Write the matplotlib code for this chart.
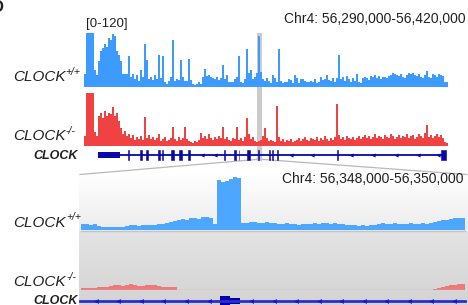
import numpy as np
import matplotlib
matplotlib.use("Agg")
import matplotlib.pyplot as plt

plt.rcParams['font.family'] = ['Liberation Sans', 'DejaVu Sans']

# ---------------- data ----------------
# overview region (kb on Chr4)
top_region = (56290.0, 56420.0)
top_range_label = "[0-120]"
top_coord_label = "Chr4: 56,290,000-56,420,000"
zoom_coord_label = "Chr4: 56,348,000-56,350,000"
highlight_kb = (56351.8, 56353.6)

# CLOCK+/+ coverage, overview (0-120 scale)
blue_top = [30, 130, 130, 130, 130,
            38, 27, 57, 79, 86, 95, 90, 108, 104, 118, 113, 79, 72, 57, 30, 30, 30, 68, 23, 30,
            18, 27, 14, 38, 23, 95, 61, 18, 23, 16, 27, 18, 72, 20, 70, 11, 7, 14, 23, 104,
            14, 18, 16, 61, 23, 14, 14, 63, 16, 7, 5, 7, 11, 7, 23, 41, 25, 27,
            23, 20, 18, 23, 16, 20, 50, 18, 27, 11, 11, 11, 18, 23, 68, 11, 9, 18, 84, 32,
            38, 18, 23, 32, 113, 34, 18, 14, 20, 14, 9, 27, 20, 11, 84, 14, 9, 11, 11, 18,
            16, 9, 27, 20, 9, 18, 18, 14, 11, 11, 14, 11, 18, 9, 11, 23, 16, 18, 27,
            16, 14, 20, 11, 20, 72, 18, 23, 14, 25, 18, 11, 20, 14, 30, 11, 9, 20, 23, 20,
            16, 25, 23, 27, 20, 25, 18, 23, 23, 20, 25, 27, 32, 30, 27, 25, 30, 23, 20, 27,
            32, 30, 32, 27, 25, 30, 23, 20, 27, 36, 23, 20, 30, 27, 23, 30, 27, 25, 11, 11]

# CLOCK-/- coverage, overview (0-120 scale)
red_top = [23, 130, 130, 130, 130,
           32, 23, 68, 75, 63, 79, 68, 75, 72, 88, 68, 75, 57, 41, 27, 34, 23, 27, 18, 25,
           14, 20, 16, 23, 14, 66, 18, 25, 16, 20, 14, 18, 27, 11, 16, 20, 11, 14, 18, 43,
           16, 11, 20, 14, 18, 43, 16, 11, 9, 7, 11, 9, 14, 30, 18, 23, 16, 27,
           18, 14, 20, 16, 23, 18, 43, 16, 20, 14, 11, 18, 16, 43, 14, 18, 11, 20, 63, 27,
           16, 20, 11, 9, 11, 14, 23, 41, 18, 11, 14, 11, 9, 90, 20, 11, 16, 9, 14, 11,
           16, 9, 11, 14, 18, 11, 16, 20, 14, 11, 18, 16, 14, 20, 11, 18, 14, 23, 16,
           11, 18, 14, 20, 95, 25, 16, 20, 14, 23, 18, 16, 20, 14, 18, 23, 16, 20, 25, 18,
           23, 16, 20, 27, 18, 23, 20, 16, 25, 20, 18, 27, 23, 16, 20, 25, 18, 23, 20, 27,
           18, 23, 25, 16, 20, 27, 23, 18, 30, 48, 20, 25, 18, 23, 27, 20, 25, 18, 9, 7]

# CLOCK gene model, overview (kb)
gene_span = (56295.0, 56419.3)
utr_block = (56295.0, 56302.9)
exon_starts = [56305.7, 56310.0, 56312.1, 56316.4, 56317.9, 56321.1, 56323.9, 56327.1,
               56340.0, 56343.6, 56345.2, 56348.2, 56352.1, 56356.1, 56357.1, 56358.9,
               56380.4, 56417.5]
exon_ends = [56306.1, 56310.7, 56312.7, 56317.1, 56318.2, 56322.1, 56325.0, 56327.9,
             56340.4, 56344.3, 56345.5, 56349.3, 56352.5, 56356.4, 56357.5, 56359.3,
             56380.7, 56419.3]
strand_marks_top = [56332.1, 56336.8, 56363.9, 56371.4, 56385.4, 56393.2, 56401.4, 56409.3,
                    56416.5]

# zoomed region (bp offset from 56,348,000)
zoom_region = (0.0, 2000.0)
blue_zoom = [6, 6, 5.5, 6, 4, 3.5, 3.5, 3, 3.5, 3, 3.5, 4, 5, 5, 4.5, 5,
             5, 5, 5.5, 6, 6, 7, 8, 9, 10, 11, 10, 12, 12, 11, 13, 13,
             12, 6, 50, 48, 49, 51, 53, 52, 7, 7, 8, 8, 7, 7, 8, 7,
             7, 6, 6, 7, 6, 6, 5, 6, 6, 6, 7, 6, 7, 7, 6, 7,
             6, 6, 5, 5, 5, 4, 5, 4, 5, 5, 6, 7, 6, 6, 7, 6,
             6, 6, 7, 6, 6, 7, 6, 7, 8, 9, 10, 10, 11, 12, 12, 12]
red_zoom = [2, 2, 2, 2.5, 3, 3.5, 3.5, 4, 5, 5, 4.5, 5, 6, 5, 4.5, 4.5,
            5, 5, 5, 4.5, 3.5, 3.5, 3, 3, 0, 0, 0, 0, 0, 0, 0, 0,
            0, 0, 0, 0, 0, 0, 0, 0, 0, 0, 0, 0, 0, 0, 0, 0,
            0, 0, 0, 0, 0, 0, 0, 0, 0, 0, 0, 0, 0, 0, 0, 0,
            0, 0, 0, 0, 0, 0, 0, 0, 0, 0, 0, 0, 0, 0, 0, 0,
            0, 0, 0, 0, 0, 0, 0, 0, 1.5, 2.5, 3, 4, 5, 5.5, 6, 6]
zoom_exon_tall = (724, 776)
zoom_exon_short = (776, 828)
strand_marks_zoom = [78, 193, 312, 427, 547, 667, 885, 1005, 1120, 1240, 1354, 1474,
                     1588, 1708, 1823, 1943]

# ---------------- styling ----------------
BLUE = "#3d9bff"
RED = "#f04242"
NAVY = "#0808a8"
ZBLUE = "#4da6ff"
ZRED = "#f06a6a"
TXT = "#231f20"

W, H = 468, 305
fig = plt.figure(figsize=(W / 100, H / 100), dpi=100)


def add_ax(x0, y0, x1, y1, z=1):
    ax = fig.add_axes([x0 / W, 1 - y1 / H, (x1 - x0) / W, (y1 - y0) / H])
    ax.set_zorder(z)
    ax.patch.set_alpha(0)
    ax.axis('off')
    return ax


# background overlay (gradient panel + connector lines)
bg = add_ax(0, 0, W, H, z=0)
g1 = np.linspace(1.0, 0.925, 100)[:, None]
g2 = np.linspace(0.89, 0.83, 100)[:, None]
bg.imshow(np.dstack([g1, g1, g1]), extent=(79, 468, 231, 174), aspect='auto',
          interpolation='bilinear')
bg.imshow(np.dstack([g2, g2, g2]), extent=(79, 468, 305, 231), aspect='auto',
          interpolation='bilinear')
bg.plot([80, 262], [174.5, 159], color="#b8b8b8", lw=0.9)
bg.plot([257, 467], [159, 174.5], color="#b8b8b8", lw=0.9)
bg.plot([81, 465], [231, 231], color="#c4c4c4", lw=1.0)
bg.set_xlim(0, W)
bg.set_ylim(H, 0)

# highlight column over the overview block
hl = add_ax(84, 33, 448, 161, z=1)
hl.axvspan(*highlight_kb, color="#cbcbcb", lw=0)
hl.set_xlim(*top_region)

edges_top = np.linspace(top_region[0], top_region[1], len(blue_top) + 1)
ab = add_ax(84, 33, 448, 87, z=2)
ab.stairs(blue_top, edges_top, fill=True, color=BLUE, lw=0)
ab.set_xlim(*top_region)
ab.set_ylim(0, 120)

edges_top_r = np.linspace(top_region[0], top_region[1], len(red_top) + 1)
ar = add_ax(84, 93, 448, 146, z=2)
ar.stairs(red_top, edges_top_r, fill=True, color=RED, lw=0)
ar.set_xlim(*top_region)
ar.set_ylim(0, 120)

ag = add_ax(84, 145, 448, 165, z=3)
ag.hlines(0, gene_span[0], gene_span[1], color=NAVY, lw=1.3)
ag.broken_barh([(utr_block[0], utr_block[1] - utr_block[0])], (-3, 6), color=NAVY, lw=0)
ag.broken_barh([(s, e - s) for s, e in zip(exon_starts, exon_ends)], (-5, 10),
               facecolor=NAVY, edgecolor=NAVY, lw=0.4)
ag.plot(strand_marks_top, [0] * len(strand_marks_top), ls='none', marker='<',
        ms=3, color=NAVY, mew=0)
ag.set_xlim(*top_region)
ag.set_ylim(-10, 10)

# zoomed tracks
edges_z = np.linspace(zoom_region[0], zoom_region[1], len(blue_zoom) + 1)
zb = add_ax(81, 175, 465, 230, z=2)
zb.stairs(blue_zoom, edges_z, fill=True, color=ZBLUE, lw=0)
zb.set_xlim(*zoom_region)
zb.set_ylim(0, 55)

edges_zr = np.linspace(zoom_region[0], zoom_region[1], len(red_zoom) + 1)
zr = add_ax(81, 235, 465, 290, z=2)
zr.axhline(0.4, color="#e3a3a3", lw=1.0)
zr.stairs(red_zoom, edges_zr, fill=True, color=ZRED, alpha=0.85, lw=0)
zr.set_xlim(*zoom_region)
zr.set_ylim(0, 55)

zg = add_ax(81, 291, 465, 311, z=3)
zg.plot([-5, 2000], [0, 0], color="#2d2dcc", lw=2, clip_on=False)
zg.broken_barh([(zoom_exon_tall[0], zoom_exon_tall[1] - zoom_exon_tall[0])], (-4, 9),
               color="#0000b0", lw=0)
zg.broken_barh([(zoom_exon_short[0], zoom_exon_short[1] - zoom_exon_short[0])], (-3, 6),
               color="#0000b0", lw=0)
zg.plot(strand_marks_zoom, [0] * len(strand_marks_zoom), ls='none', marker='<',
        ms=3.5, color="#1515e0", mew=0)
zg.set_xlim(*zoom_region)
zg.set_ylim(-10, 10)

# foreground text
fg = add_ax(0, 0, W, H, z=10)
fg.set_xlim(0, W)
fg.set_ylim(H, 0)
fg.text(-8, 12, "D", fontsize=12, fontweight='bold', color=TXT, va='baseline')
fg.text(86, 27.5, top_range_label, fontsize=9.5, color=TXT, va='baseline')
fg.text(466, 23, top_coord_label, fontsize=10, color=TXT, va='baseline', ha='right')
fg.text(464, 183, zoom_coord_label, fontsize=10, color=TXT, va='baseline', ha='right')


def label(x, y, sup, sx, sy):
    fg.text(x, y, "CLOCK", fontsize=11, style='italic', color=TXT, va='baseline')
    fg.text(sx, sy, sup, fontsize=7.5, style='italic', color=TXT, va='baseline')


label(13, 81, "+/+", 65.5, 75)
label(13, 140, "-/-", 65.5, 133.5)
fg.text(33, 159, "CLOCK", fontsize=9, style='italic', fontweight='bold', color=TXT,
        va='baseline')
label(13, 227, "+/+", 66.5, 220)
label(13, 286, "-/-", 66.5, 279.5)
fg.text(33, 303.5, "CLOCK", fontsize=9, style='italic', fontweight='bold', color=TXT,
        va='baseline')

fig.savefig("out.png", dpi=100)
